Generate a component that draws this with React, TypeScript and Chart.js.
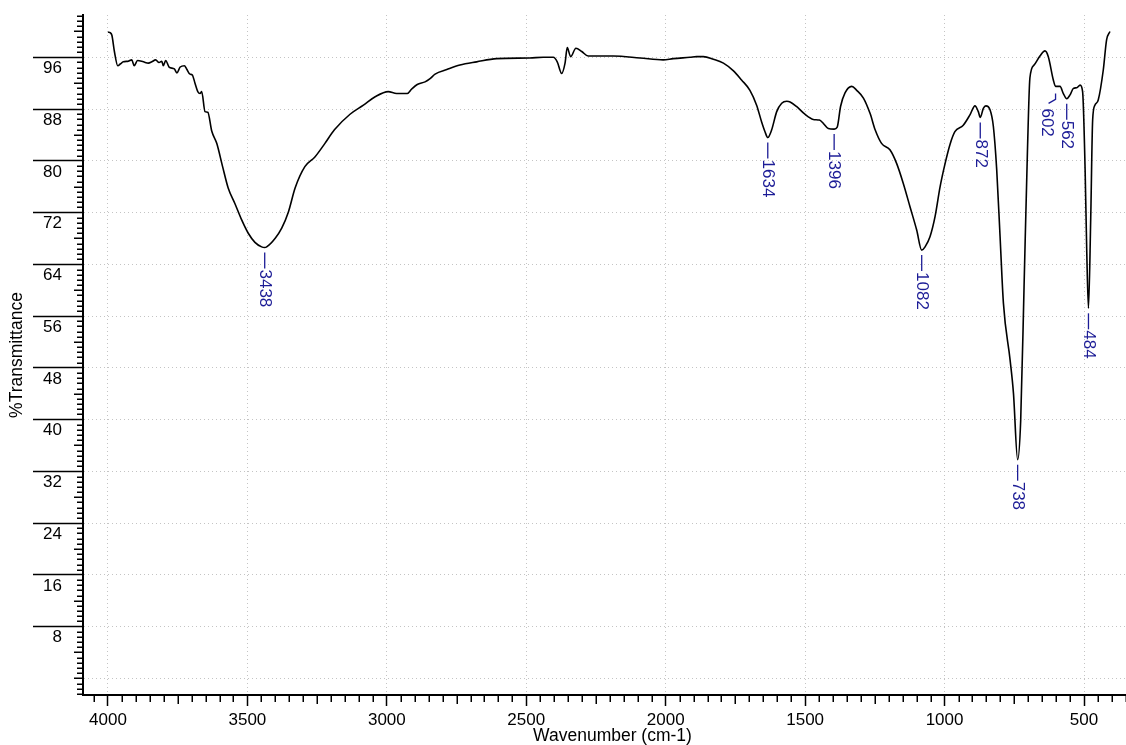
import React, { useEffect, useRef } from "react";
import { Chart, registerables } from "chart.js";

Chart.register(...registerables);
Chart.defaults.font.family = '"Liberation Sans", Arial, sans-serif';

// ---------- data ----------
const wavenumbers = [
  4000, 3992, 3986, 3977, 3965, 3955, 3945, 3927, 3915, 3906,
  3894, 3873, 3855, 3843, 3829, 3817, 3807, 3802, 3793, 3781,
  3762, 3753, 3741, 3726, 3718, 3706, 3698, 3688, 3678, 3670,
  3664, 3652, 3642, 3628, 3610, 3589, 3569, 3545, 3521, 3497,
  3473, 3449, 3438, 3431, 3401, 3377, 3353, 3329, 3294, 3258,
  3222, 3188, 3132, 3084, 3042, 2995, 2965, 2927, 2911, 2891,
  2863, 2845, 2827, 2785, 2738, 2678, 2606, 2488, 2439, 2403,
  2389, 2373, 2361, 2353, 2341, 2322, 2301, 2278, 2188, 2092,
  2009, 1973, 1913, 1889, 1865, 1829, 1793, 1757, 1728, 1698,
  1674, 1656, 1644, 1634, 1620, 1602, 1584, 1566, 1554, 1531,
  1501, 1471, 1449, 1435, 1417, 1396, 1385, 1373, 1357, 1333,
  1315, 1291, 1267, 1249, 1226, 1196, 1172, 1148, 1124, 1100,
  1082, 1070, 1052, 1034, 1016, 998, 980, 963, 933, 909,
  891, 879, 872, 861, 852, 837, 825, 813, 801, 789,
  765, 753, 738, 727, 715, 703, 694, 679, 658, 640,
  628, 610, 602, 586, 574, 562, 550, 538, 526, 514,
  505, 496, 490, 484, 476, 469, 461, 449, 431, 419,
  407,
];

const transmittance = [
  99.9, 99.8, 99.4, 96.9, 94.7, 95.0, 95.3, 95.4, 95.6, 94.7,
  95.5, 95.3, 95.1, 95.3, 95.6, 95.2, 95.4, 94.7, 95.5, 94.5,
  94.2, 93.6, 94.5, 94.7, 94.2, 93.4, 93.3, 92.0, 90.7, 90.4,
  90.7, 87.6, 87.5, 84.6, 82.7, 79.1, 75.8, 73.4, 70.9, 68.8,
  67.4, 66.7, 66.6, 66.7, 68.0, 69.6, 72.1, 75.8, 79.1, 80.6,
  82.7, 84.8, 87.2, 88.6, 89.9, 90.7, 90.4, 90.4, 91.1, 91.8,
  92.2, 92.7, 93.4, 94.1, 94.8, 95.3, 95.8, 95.9, 96.0, 96.0,
  95.3, 93.5, 95.1, 97.5, 96.1, 97.4, 96.9, 96.2, 96.2, 95.9,
  95.6, 95.8, 96.0, 96.1, 96.1, 95.7, 95.1, 93.9, 92.5, 90.9,
  88.6, 86.0, 84.5, 83.6, 84.8, 87.6, 88.9, 89.2, 89.1, 88.4,
  87.2, 86.4, 86.3, 85.8, 85.0, 84.9, 85.2, 88.4, 90.5, 91.5,
  90.9, 89.7, 87.3, 84.8, 82.7, 81.7, 79.6, 76.5, 72.9, 69.3,
  66.2, 66.7, 68.3, 71.4, 76.0, 79.6, 82.6, 84.5, 85.5, 87.1,
  88.5, 87.6, 86.7, 88.1, 88.5, 87.9, 85.3, 78.6, 68.3, 58.0,
  49.2, 44.1, 33.8, 39.9, 60.5, 81.2, 92.8, 94.8, 96.2, 97.0,
  96.1, 92.5, 91.5, 91.5, 90.4, 89.6, 90.2, 91.2, 91.3, 91.7,
  90.7, 78.6, 65.7, 57.2, 70.9, 86.3, 88.6, 89.4, 94.0, 98.7,
  100.0,
];

const xTickValues = [500, 1000, 1500, 2000, 2500, 3000, 3500, 4000];
const yTickValues = [0, 8, 16, 24, 32, 40, 48, 56, 64, 72, 80, 88, 96];

const peakWavenumbers = [3438, 1634, 1396, 1082, 872, 738, 602, 562, 484];
const peakTransmittance = [66.6, 83.6, 84.9, 66.2, 86.7, 33.8, 91.5, 89.6, 57.2];

const X_TITLE = "Wavenumber (cm-1)";
const Y_TITLE = "%Transmittance";

// ---------- layout / style constants ----------
const X_MIN = 349.4;
const X_MAX = 4089.6;
const Y_MIN = -2.57;
const Y_MAX = 102.54;
const PEAK_COLOR = "#1c1c96";
const PEAK_LABEL_SHIFT: Record<number, number> = { 602: -9 };

const decorPlugin = {
  id: "decor",
  afterDraw(chart: any) {
    const { ctx, chartArea, scales } = chart;
    const xs = scales.x;
    const ys = scales.y;
    ctx.save();

    // minor ticks
    ctx.strokeStyle = "#000";
    ctx.lineWidth = 1.5;
    ctx.beginPath();
    const iMin = Math.ceil(Y_MIN / 0.8);
    const iMax = Math.floor(Y_MAX / 0.8);
    for (let i = iMin; i <= iMax; i++) {
      if (i > 0 && i % 10 === 0) continue;
      const py = Math.round(ys.getPixelForValue(i * 0.8)) + 0.25;
      const len = i % 5 === 0 ? 9 : 6;
      ctx.moveTo(chartArea.left - len, py);
      ctx.lineTo(chartArea.left, py);
    }
    for (let w = 350; w <= 4050; w += 50) {
      if (w % 500 === 0) continue;
      const px = Math.round(xs.getPixelForValue(w)) + 0.25;
      const len = w % 250 === 0 ? 9 : 7;
      ctx.moveTo(px, chartArea.bottom);
      ctx.lineTo(px, chartArea.bottom + len);
    }
    ctx.stroke();

    // x axis title
    ctx.fillStyle = "#000";
    ctx.font = '17.5px "Liberation Sans", Arial, sans-serif';
    ctx.textAlign = "center";
    ctx.textBaseline = "middle";
    ctx.fillText(X_TITLE, (chartArea.left + chartArea.right) / 2 + 8, 736);

    // peak labels
    ctx.strokeStyle = PEAK_COLOR;
    ctx.fillStyle = PEAK_COLOR;
    ctx.lineWidth = 1.3;
    ctx.font = '17px "Liberation Sans", Arial, sans-serif';
    peakWavenumbers.forEach((w, i) => {
      const px = xs.getPixelForValue(w);
      const py = ys.getPixelForValue(peakTransmittance[i]);
      const shift = PEAK_LABEL_SHIFT[w] ?? 0;
      let tx = px;
      let ty = py + 22;
      ctx.beginPath();
      if (shift === 0) {
        ctx.moveTo(px, py + 5);
        ctx.lineTo(px, py + 21);
      } else {
        ctx.moveTo(px, py + 7);
        ctx.lineTo(px, py + 13);
        ctx.lineTo(px + shift + 2, py + 17);
        tx = px + shift;
        ty = py + 22;
      }
      ctx.stroke();
      ctx.save();
      ctx.translate(tx, ty);
      ctx.rotate(Math.PI / 2);
      ctx.textAlign = "left";
      ctx.textBaseline = "middle";
      ctx.fillText(String(w), 0, 0);
      ctx.restore();
    });

    ctx.restore();
  },
};

export default function App() {
  const canvasRef = useRef<HTMLCanvasElement | null>(null);

  useEffect(() => {
    const canvas = canvasRef.current;
    if (!canvas) return;
    const points = wavenumbers.map((w, i) => ({ x: w, y: transmittance[i] }));

    const chart = new Chart(canvas, {
      type: "line",
      data: {
        datasets: [
          {
            data: points,
            borderColor: "#000",
            borderWidth: 1.6,
            pointRadius: 0,
            fill: false,
            cubicInterpolationMode: "monotone",
          },
        ],
      },
      options: {
        responsive: false,
        animation: false,
        devicePixelRatio: 1,
        layout: { padding: { top: 15, right: 0, left: 0, bottom: 0 } },
        plugins: {
          legend: { display: false },
          tooltip: { enabled: false },
        },
        scales: {
          x: {
            type: "linear",
            reverse: true,
            min: X_MIN,
            max: X_MAX,
            afterBuildTicks: (s: any) => {
              s.ticks = xTickValues.map((v) => ({ value: v }));
            },
            afterFit: (s: any) => {
              s.height = 50;
            },
            ticks: {
              color: "#000",
              font: { size: 17 },
              padding: 4,
              maxRotation: 0,
              autoSkip: false,
              callback: (v: any) => String(v),
            },
            grid: {
              color: "#c4c4c4",
              lineWidth: 1,
              tickColor: "#000",
              tickWidth: 1.5,
              tickLength: 11,
              tickBorderDash: [],
            },
            border: { display: true, color: "#000", width: 2, dash: [1, 3] },
          },
          y: {
            type: "linear",
            min: Y_MIN,
            max: Y_MAX,
            afterBuildTicks: (s: any) => {
              s.ticks = yTickValues.map((v) => ({ value: v }));
            },
            afterFit: (s: any) => {
              s.width = 83;
            },
            ticks: {
              color: "#000",
              font: { size: 17 },
              padding: -29,
              labelOffset: 11,
              autoSkip: false,
              callback: (v: any) => (v === 0 ? "" : String(v)),
            },
            grid: {
              color: "#c4c4c4",
              lineWidth: 1,
              tickColor: (c: any) =>
                c.tick && c.tick.value === 0 ? "rgba(0,0,0,0)" : "#000",
              tickWidth: 1.5,
              tickLength: 50,
              tickBorderDash: [],
            },
            border: { display: true, color: "#000", width: 2, dash: [1, 3] },
            title: {
              display: true,
              text: Y_TITLE,
              color: "#000",
              font: { size: 17.5 },
              padding: { top: 7, bottom: 0 },
            },
          },
        },
      },
      plugins: [decorPlugin],
    } as any);

    return () => chart.destroy();
  }, []);

  return (
    <div style={{ position: "absolute", left: 0, top: 0, width: 1126, height: 745, background: "#fff" }}>
      <canvas ref={canvasRef} width={1126} height={745} style={{ display: "block" }} />
    </div>
  );
}
